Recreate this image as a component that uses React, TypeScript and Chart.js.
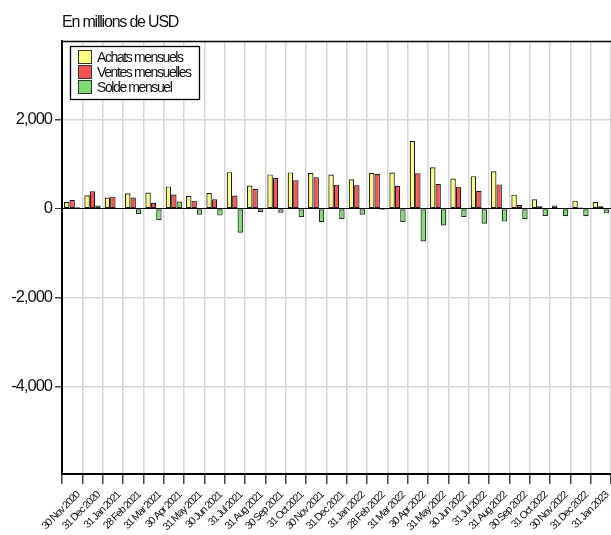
import React, { useEffect, useRef } from 'react';
import { Chart, registerables } from 'chart.js';

Chart.register(...registerables);

const categories = [
  '30 Nov 2020', '31 Dec 2020', '31 Jan 2021', '28 Feb 2021', '31 Mar 2021', '30 Apr 2021',
  '31 May 2021', '30 Jun 2021', '31 Jul 2021', '31 Aug 2021', '30 Sep 2021', '31 Oct 2021',
  '30 Nov 2021', '31 Dec 2021', '31 Jan 2022', '28 Feb 2022', '31 Mar 2022', '30 Apr 2022',
  '31 May 2022', '30 Jun 2022', '31 Jul 2022', '31 Aug 2022', '30 Sep 2022', '31 Oct 2022',
  '30 Nov 2022', '31 Dec 2022', '31 Jan 2023',
];

const achats = [150, 300, 250, 345, 365, 500, 285, 350, 820, 520, 770, 815, 800, 765, 660, 800, 810, 1520, 930, 675, 730, 840, 315, 210, 72, 180, 152];
const ventes = [195, 390, 270, 250, 135, 320, 180, 210, 295, 445, 690, 640, 705, 540, 525, 785, 515, 795, 555, 495, 400, 545, 83, 54, 18, 27, 54];
const solde = [30, 70, 15, -120, -255, 160, -135, -155, -540, -80, -90, -190, -305, -230, -135, -30, -300, -735, -375, -190, -337, -290, -235, -162, -168, -168, -105];

const seriesNames = ['Achats mensuels', 'Ventes mensuelles', 'Solde mensuel'];
const yTicks = [-4000, -2000, 0, 2000];
const yMin = -5955;
const yMax = 3764;
const titleText = 'En millions de USD';

const FAMILY = '"Liberation Sans", Arial, Helvetica, sans-serif';

const overlayPlugin = {
  id: 'overlay',
  beforeDraw(chart: any) {
    chart.ctx.letterSpacing = '-1px';
  },
  afterDraw(chart: any) {
    const { ctx, chartArea } = chart;
    ctx.save();
    // top frame line
    ctx.strokeStyle = '#000';
    ctx.lineWidth = 1.5;
    ctx.beginPath();
    ctx.moveTo(chartArea.left, chartArea.top + 0.5);
    ctx.lineTo(chartArea.right, chartArea.top + 0.5);
    ctx.stroke();

    // title
    ctx.letterSpacing = '-1.2px';
    ctx.font = `16px ${FAMILY}`;
    ctx.fillStyle = '#111';
    ctx.textAlign = 'left';
    ctx.textBaseline = 'alphabetic';
    ctx.fillText(titleText, chartArea.left, 27);

    // legend
    const lx = 70, ly = 46, lw = 129, lh = 53;
    ctx.fillStyle = '#fff';
    ctx.fillRect(lx, ly, lw, lh);
    ctx.strokeStyle = '#000';
    ctx.lineWidth = 1.3;
    ctx.strokeRect(lx + 0.5, ly + 0.5, lw, lh);
    ctx.font = `14px ${FAMILY}`;
    ctx.letterSpacing = '-1.4px';
    chart.data.datasets.forEach((ds: any, i: number) => {
      const sy = 50 + i * 15;
      ctx.fillStyle = ds.backgroundColor;
      ctx.fillRect(78, sy, 14, 14);
      ctx.strokeStyle = '#333';
      ctx.lineWidth = 1;
      ctx.strokeRect(78.5, sy + 0.5, 13, 13);
      ctx.fillStyle = '#111';
      ctx.textBaseline = 'middle';
      ctx.fillText(ds.label, 97, sy + 8);
    });
    ctx.restore();
  },
};

export default function App() {
  const ref = useRef<HTMLCanvasElement>(null);

  useEffect(() => {
    if (!ref.current) return;
    const chart = new Chart(ref.current, {
      type: 'bar',
      data: {
        labels: categories,
        datasets: [
          { label: seriesNames[0], data: achats, backgroundColor: '#ffff80', borderColor: '#1a1a1a', borderWidth: 1.2, borderSkipped: false },
          { label: seriesNames[1], data: ventes, backgroundColor: '#ff5252', borderColor: '#1a1a1a', borderWidth: 1.2, borderSkipped: false },
          { label: seriesNames[2], data: solde, backgroundColor: '#7fdc72', borderColor: '#1f2f1f', borderWidth: 1.2, borderSkipped: false },
        ],
      },
      options: {
        animation: false,
        responsive: false,
        layout: { padding: { top: 41, left: 0, right: 0, bottom: 0 } },
        datasets: { bar: { categoryPercentage: 0.8, barPercentage: 1 } },
        plugins: {
          legend: { display: false },
          title: { display: false },
          tooltip: { enabled: false },
        },
        scales: {
          x: {
            type: 'category',
            offset: true,
            grid: { offset: true, color: '#d6d6d6', lineWidth: 1.5, tickColor: '#444', tickLength: 10 },
            border: { color: '#000', width: 2 },
            ticks: {
              autoSkip: false,
              minRotation: 45,
              maxRotation: 45,
              labelOffset: 6,
              padding: 5,
              color: '#111',
              font: { size: 10.5, family: FAMILY },
            },
            afterFit(s: any) {
              s.height = 61;
              s.paddingLeft = 0;
              s.paddingRight = 0;
            },
          },
          y: {
            min: yMin,
            max: yMax,
            afterBuildTicks(s: any) {
              s.ticks = yTicks.map((v) => ({ value: v }));
            },
            grid: {
              color: (c: any) => (c.tick && c.tick.value === 0 ? '#000' : '#d6d6d6'),
              lineWidth: (c: any) => (c.tick && c.tick.value === 0 ? 1 : 1.5),
              tickColor: '#444',
              tickLength: 7,
            },
            border: { color: '#000', width: 2 },
            ticks: {
              padding: 3,
              color: '#111',
              font: { size: 16.5, family: FAMILY },
              callback: (v: any) => Number(v).toLocaleString('en-US'),
            },
            afterFit(s: any) {
              s.width = 62;
              s.paddingTop = 0;
              s.paddingBottom = 0;
            },
          },
        },
      },
      plugins: [overlayPlugin],
    } as any);
    return () => chart.destroy();
  }, []);

  return (
    <div style={{ position: 'fixed', left: 0, top: 0, width: 611, height: 535, background: '#fff' }}>
      <canvas ref={ref} width={611} height={535} style={{ display: 'block', width: 611, height: 535 }} />
    </div>
  );
}
